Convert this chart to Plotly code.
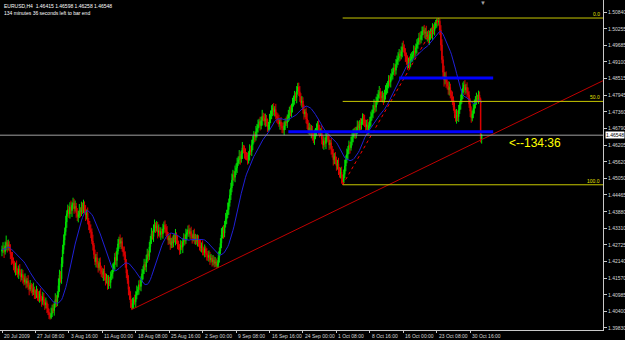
import numpy as np
import pandas as pd
import plotly.graph_objects as go

# ---------------- data (EURUSD H4, prices in pips above 1.4000) ----------------
BASE = 1.4000
PIP = 0.0001
FIRST_OPEN_PIPS = 250

CLOSE_PIPS = [
    256, 262, 249, 268, 281, 266, 273, 258, 241, 226, 219, 201, 186, 198, 183, 172, 189, 176, 161, 170,
    158, 144, 151, 139, 147, 128, 119, 133, 121, 108, 117, 104, 99, 112, 96, 88, 101, 85, 79, 92,
    73, 64, 71, 52, 38, 29, 19, 34, 51, 43, 66, 82, 74, 99, 131, 168, 154, 207, 256, 289,
    318, 352, 381, 395, 381, 404, 392, 411, 418, 399, 407, 384, 371, 378, 393, 386, 405, 398, 412, 394,
    376, 383, 356, 341, 326, 318, 286, 271, 239, 214, 228, 206, 193, 211, 188, 176, 169, 182, 161, 148,
    157, 134, 149, 141, 163, 172, 186, 204, 229, 218, 251, 276, 291, 278, 284, 259, 247, 238, 206, 174,
    149, 117, 96, 71, 54, 68, 82, 74, 98, 109, 117, 134, 128, 151, 172, 186, 204, 196, 223, 241,
    232, 266, 291, 312, 301, 329, 343, 331, 339, 317, 322, 308, 319, 311, 328, 341, 333, 318, 302, 289,
    296, 273, 284, 279, 297, 291, 308, 289, 274, 266, 256, 271, 264, 283, 296, 288, 309, 316, 325, 311,
    319, 304, 297, 309, 291, 298, 284, 291, 279, 273, 261, 268, 254, 246, 259, 243, 238, 229, 236, 221,
    226, 214, 219, 208, 213, 201, 204, 229, 251, 278, 308, 321, 314, 343, 362, 378, 395, 419, 446, 471,
    498, 517, 508, 529, 541, 558, 569, 581, 572, 589, 611, 604, 591, 584, 577, 569, 586, 603, 597, 621,
    639, 652, 648, 667, 679, 691, 702, 688, 706, 721, 715, 704, 712, 696, 683, 691, 709, 726, 741, 750,
    737, 744, 722, 716, 708, 694, 701, 686, 679, 673, 688, 702, 697, 714, 726, 739, 733, 752, 768, 778,
    791, 786, 809, 823, 806, 789, 768, 774, 743, 729, 736, 711, 694, 673, 681, 664, 672, 651, 639, 654,
    668, 679, 691, 676, 662, 669, 641, 621, 634, 626, 647, 652, 639, 621, 628, 604, 589, 569, 581, 563,
    548, 556, 534, 519, 527, 506, 492, 518, 547, 569, 588, 604, 619, 611, 632, 648, 656, 667, 659, 671,
    688, 680, 694, 689, 701, 714, 708, 696, 684, 691, 673, 688, 704, 719, 731, 743, 758, 752, 771, 786,
    795, 806, 792, 784, 791, 778, 796, 809, 821, 830, 846, 839, 858, 866, 875, 889, 881, 902, 917, 924,
    938, 931, 946, 962, 959, 941, 928, 913, 900, 912, 906, 921, 929, 935, 948, 943, 959, 971, 980, 994,
    988, 1003, 1016, 1021, 1009, 1014, 998, 1004, 987, 999, 1012, 1007, 1028, 1019, 1036, 1047, 1056, 1049, 1052, 1021,
    969, 918, 874, 847, 859, 838, 826, 813, 821, 796, 789, 778, 752, 731, 715, 726, 719, 742, 761, 779,
    801, 818, 830, 812, 821, 806, 795, 763, 738, 715, 729, 748, 761, 778, 786, 779, 795, 782, 641.5, 654.8,
]

HIGH_EXT_PIPS = [
    14, 20, 9, 16, 24, 8, 18, 12, 17, 7, 22, 10, 15, 13, 20, 8, 12, 17, 10, 19,
    15, 8, 22, 12, 10, 20, 13, 17, 7, 15, 24, 10, 13, 18, 8, 15, 12, 20, 10, 17,
    13, 10, 18, 8, 15, 12, 7, 20, 13, 17, 10, 22, 15, 12, 25, 18, 13, 23, 17, 20,
    15, 22, 12, 18, 13, 17, 23, 10, 19, 15, 20, 12, 17, 13, 22, 10, 18, 15, 18, 12,
    17, 13, 20, 10, 15, 18, 12, 22, 8, 17, 13, 20, 10, 15, 18, 12, 17, 8, 20, 13,
    15, 10, 18, 12, 17, 13, 22, 8, 15, 20, 12, 17, 10, 18, 13, 15, 8, 20, 12, 17,
    13, 18, 10, 15, 12, 20, 8, 17, 13, 22, 10, 15, 18, 12, 17, 13, 20, 10, 15, 18,
    12, 17, 13, 20, 10, 15, 18, 8, 17, 13, 22, 12, 15, 10, 18, 13, 17, 12, 20, 15,
    10, 17, 13, 18, 12, 15, 20, 8, 17, 13, 10, 18, 15, 12, 17, 13, 20, 10, 15, 18,
    12, 17, 8, 15, 20, 13, 10, 18, 15, 12, 17, 13, 20, 10, 15, 8, 18, 13, 17, 12,
    15, 10, 18, 13, 17, 12, 15, 20, 13, 18, 23, 15, 20, 13, 22, 17, 25, 15, 20, 18,
    23, 17, 13, 20, 15, 18, 12, 22, 17, 13, 20, 10, 15, 18, 12, 17, 13, 20, 15, 18,
    13, 17, 12, 20, 15, 18, 10, 17, 13, 22, 12, 15, 18, 13, 17, 10, 20, 15, 18, 13,
    17, 12, 20, 13, 15, 18, 10, 17, 13, 20, 15, 12, 18, 13, 17, 15, 20, 12, 17, 15,
    18, 13, 17, 14, 15, 20, 12, 17, 13, 18, 10, 15, 20, 13, 17, 12, 18, 15, 13, 20,
    12, 17, 13, 18, 15, 10, 20, 13, 17, 12, 18, 15, 13, 20, 10, 17, 13, 18, 12, 15,
    17, 13, 20, 10, 15, 18, 12, 17, 22, 15, 20, 13, 17, 12, 18, 15, 20, 13, 17, 12,
    18, 15, 13, 20, 12, 17, 15, 18, 13, 17, 20, 12, 15, 18, 13, 17, 22, 15, 18, 13,
    17, 20, 13, 15, 18, 12, 17, 20, 15, 13, 18, 17, 12, 20, 15, 17, 13, 18, 15, 20,
    17, 13, 18, 15, 22, 12, 17, 15, 20, 13, 17, 18, 15, 13, 20, 17, 15, 18, 13, 17,
    20, 15, 17, 13, 18, 15, 22, 13, 17, 20, 15, 18, 17, 13, 12, 9, 5, 6, 11, 8,
    17, 20, 13, 23, 15, 18, 12, 17, 20, 13, 15, 18, 12, 17, 13, 20, 15, 18, 13, 17,
    15, 20, 13, 17, 12, 18, 15, 13, 20, 17, 12, 15, 18, 13, 17, 10, 15, 12, 4, 5,
]

LOW_EXT_PIPS = [
    17, 12, 22, 10, 15, 20, 13, 8, 18, 23, 12, 17, 10, 20, 15, 13, 18, 10, 17, 12,
    20, 13, 10, 18, 15, 12, 22, 8, 17, 13, 10, 20, 15, 12, 18, 13, 17, 10, 22, 15,
    12, 18, 13, 17, 10, 15, 7, 5, 13, 8, 17, 12, 18, 15, 10, 22, 13, 17, 12, 15,
    18, 13, 20, 10, 15, 17, 12, 22, 13, 18, 10, 17, 15, 20, 12, 17, 13, 18, 15, 10,
    20, 15, 12, 17, 13, 22, 10, 18, 15, 12, 20, 13, 17, 10, 18, 15, 12, 22, 13, 17,
    10, 18, 15, 12, 20, 13, 17, 8, 18, 15, 22, 12, 17, 13, 20, 10, 15, 18, 13, 17,
    12, 20, 15, 18, 7, 5, 17, 10, 20, 15, 12, 18, 13, 17, 10, 20, 15, 12, 18, 13,
    17, 12, 20, 15, 10, 18, 13, 17, 12, 22, 15, 10, 18, 13, 17, 12, 20, 15, 10, 17,
    13, 18, 12, 17, 15, 10, 20, 13, 17, 12, 18, 15, 10, 20, 13, 17, 12, 18, 15, 10,
    17, 13, 20, 12, 15, 18, 10, 17, 13, 20, 12, 15, 18, 10, 17, 13, 20, 12, 15, 18,
    10, 17, 13, 14, 12, 8, 9, 11, 18, 12, 17, 13, 20, 15, 10, 17, 12, 18, 13, 17,
    15, 20, 12, 17, 13, 18, 10, 15, 20, 13, 17, 12, 18, 15, 10, 17, 13, 20, 12, 15,
    18, 13, 17, 12, 20, 15, 10, 17, 13, 18, 12, 15, 20, 10, 17, 13, 18, 12, 15, 20,
    13, 17, 12, 18, 15, 10, 20, 13, 17, 12, 18, 15, 10, 17, 13, 20, 12, 15, 18, 13,
    17, 12, 20, 13, 15, 18, 10, 17, 13, 20, 12, 15, 18, 13, 17, 10, 20, 15, 12, 18,
    13, 17, 12, 20, 15, 10, 18, 13, 17, 12, 20, 15, 10, 18, 13, 17, 12, 20, 15, 10,
    17, 13, 18, 12, 15, 20, 10, 6, 13, 18, 12, 17, 15, 20, 10, 13, 18, 12, 17, 15,
    13, 18, 12, 17, 15, 10, 20, 13, 17, 12, 18, 15, 10, 20, 13, 17, 12, 18, 15, 10,
    17, 13, 20, 12, 15, 18, 10, 17, 13, 20, 12, 15, 18, 13, 17, 10, 20, 15, 12, 18,
    13, 17, 12, 20, 15, 10, 18, 13, 17, 12, 20, 15, 10, 18, 13, 17, 12, 20, 15, 10,
    17, 13, 18, 12, 15, 20, 10, 17, 13, 18, 12, 15, 20, 13, 17, 10, 18, 15, 12, 17,
    20, 13, 17, 23, 15, 18, 12, 17, 20, 13, 15, 18, 12, 17, 13, 20, 15, 18, 13, 17,
    15, 20, 13, 17, 12, 18, 15, 13, 20, 17, 12, 15, 18, 13, 17, 10, 15, 12, 12, 16,
]

X_TICK_BARS = [0, 32, 64, 96, 128, 160, 192, 224, 256, 288, 320, 352, 384, 416, 448]
X_TICK_LABELS = ["20 Jul 2009", "27 Jul 08:00", "3 Aug 16:00", "11 Aug 00:00", "18 Aug 08:00",
                 "25 Aug 16:00", "2 Sep 00:00", "9 Sep 08:00", "16 Sep 16:00", "24 Sep 00:00",
                 "1 Oct 08:00", "8 Oct 16:00", "16 Oct 00:00", "23 Oct 08:00", "30 Oct 16:00"]
Y_TICKS = [1.39830, 1.40400, 1.40985, 1.41570, 1.42140, 1.42725, 1.43310, 1.43880, 1.44465, 1.45050,
           1.45620, 1.46205, 1.46790, 1.47360, 1.47945, 1.48515, 1.49100, 1.49685, 1.50255, 1.50840]

MA_PERIOD = 21
TREND_ANCHOR_BARS = [124, 206]          # lows the trendline is drawn through
FIB_BARS = [326, 418]                   # swing low (100) and swing high (0)
FIB_LEVELS = [0.0, 50.0, 100.0]
SR_LINES = [(274, 470, 1.46664), (380, 470, 1.48543)]   # blue horizontal levels
LAST_PRICE = 1.46548
HEADER = "EURUSD,H4  1.46415 1.46598 1.46258 1.46548"
TIMER_TEXT = "134 minutes 36 seconds left to bar end"
TIMER_LABEL = "<--134:36"

# ---------------- build ----------------
close = BASE + np.array(CLOSE_PIPS, dtype=float) * PIP
open_ = np.concatenate([[BASE + FIRST_OPEN_PIPS * PIP], close[:-1]])
high = np.maximum(open_, close) + np.array(HIGH_EXT_PIPS) * PIP
low = np.minimum(open_, close) - np.array(LOW_EXT_PIPS) * PIP
bars = np.arange(len(close))
ma = pd.Series(close).rolling(MA_PERIOD, min_periods=1).mean()

X_MIN, X_MAX = -1.91, 575.1
Y_MIN, Y_MAX = 1.39760, 1.51258
FONT = "Liberation Sans"

fig = go.Figure()

# fib baseline (dotted red)
fl, fh = FIB_BARS
fib_low, fib_high = low[fl], high[fh]
fig.add_trace(go.Scatter(x=[fl, fh], y=[fib_low, fib_high], mode="lines",
                         line=dict(color="#ff0000", width=1, dash="dot"), hoverinfo="skip"))

# trendline through two lows, extended to the right edge
b1, b2 = TREND_ANCHOR_BARS
slope = (low[b2] - low[b1]) / (b2 - b1)
fig.add_trace(go.Scatter(x=[b1, X_MAX], y=[low[b1], low[b1] + slope * (X_MAX - b1)], mode="lines",
                         line=dict(color="#c00000", width=1), hoverinfo="skip"))

fig.add_trace(go.Candlestick(
    x=bars, open=open_, high=high, low=low, close=close,
    increasing=dict(line=dict(color="#00e000", width=1), fillcolor="#00e000"),
    decreasing=dict(line=dict(color="#e00000", width=1), fillcolor="#e00000"),
    whiskerwidth=0, hoverinfo="skip"))

fig.add_trace(go.Scatter(x=bars, y=ma, mode="lines", line=dict(color="#2020d8", width=1),
                         hoverinfo="skip"))

shapes = []
annotations = []
# fibonacci levels
for lvl in FIB_LEVELS:
    price = fib_high - (fib_high - fib_low) * lvl / 100.0
    shapes.append(dict(type="line", xref="x", yref="y", x0=fl, x1=X_MAX, y0=price, y1=price,
                       line=dict(color="#c8c800", width=1), layer="above"))
    annotations.append(dict(x=X_MAX, y=price, xref="x", yref="y", text=f"{lvl:.1f}", showarrow=False,
                            xanchor="right", yanchor="bottom", xshift=-1, yshift=-1,
                            font=dict(family=FONT, size=5, color="#e0e000")))
# blue levels
for x0, x1, price in SR_LINES:
    shapes.append(dict(type="line", xref="x", yref="y", x0=x0, x1=x1, y0=price, y1=price,
                       line=dict(color="#0000ff", width=3), layer="above"))
# current price line
shapes.append(dict(type="line", xref="x", yref="y", x0=X_MIN, x1=X_MAX, y0=LAST_PRICE, y1=LAST_PRICE,
                   line=dict(color="#a0a0a0", width=1), layer="above"))

# time-axis labels, left-aligned at their ticks (MT4 style)
for b, lab in zip(X_TICK_BARS, X_TICK_LABELS):
    annotations.append(dict(x=b, y=0, xref="x", yref="paper", text=lab, showarrow=False,
                            xanchor="left", yanchor="top", xshift=0, yshift=-1,
                            font=dict(family=FONT, size=5, color="#d8d8d8")))

annotations += [
    dict(x=1, y=LAST_PRICE, xref="paper", yref="y", text=f"{LAST_PRICE:.5f}", showarrow=False,
         xanchor="left", yanchor="middle", xshift=2, bgcolor="#ffffff", borderpad=0,
         font=dict(family=FONT, size=5, color="#000000")),
    dict(x=0.004, y=1, xref="paper", yref="paper", text=HEADER, showarrow=False,
         xanchor="left", yanchor="top", yshift=-1, font=dict(family=FONT, size=5, color="#ffffff")),
    dict(x=0.004, y=1, xref="paper", yref="paper", text=TIMER_TEXT, showarrow=False,
         xanchor="left", yanchor="top", yshift=-8, font=dict(family=FONT, size=5, color="#ffffff")),
    dict(x=483, y=1.46281, xref="x", yref="y", text=TIMER_LABEL, showarrow=False,
         xanchor="left", yanchor="middle", font=dict(family=FONT, size=12, color="#ffff00")),
    dict(x=0.801, y=1, xref="paper", yref="paper", text="▼", showarrow=False,
         xanchor="center", yanchor="top", yshift=2, font=dict(family=FONT, size=6, color="#a0a0a0")),
]

fig.update_layout(
    width=625, height=340,
    margin=dict(l=0, r=22, t=0, b=10),
    paper_bgcolor="#000000", plot_bgcolor="#000000",
    showlegend=False,
    shapes=shapes, annotations=annotations,
    xaxis=dict(range=[X_MIN, X_MAX], showgrid=False, zeroline=False, showline=True,
               linecolor="#c8c8c8", linewidth=1, ticks="outside", ticklen=2, tickcolor="#c8c8c8",
               tickvals=X_TICK_BARS, showticklabels=False,
               rangeslider=dict(visible=False), automargin=False, fixedrange=True),
    yaxis=dict(range=[Y_MIN, Y_MAX], side="right", showgrid=False, zeroline=False, showline=True,
               linecolor="#c8c8c8", linewidth=1, ticks="outside", ticklen=3, tickcolor="#c8c8c8",
               tickvals=Y_TICKS, ticktext=[f"{v:.5f}" for v in Y_TICKS],
               tickfont=dict(family=FONT, size=5, color="#d8d8d8"),
               automargin=False, fixedrange=True),
)

fig.write_html("out.html")
